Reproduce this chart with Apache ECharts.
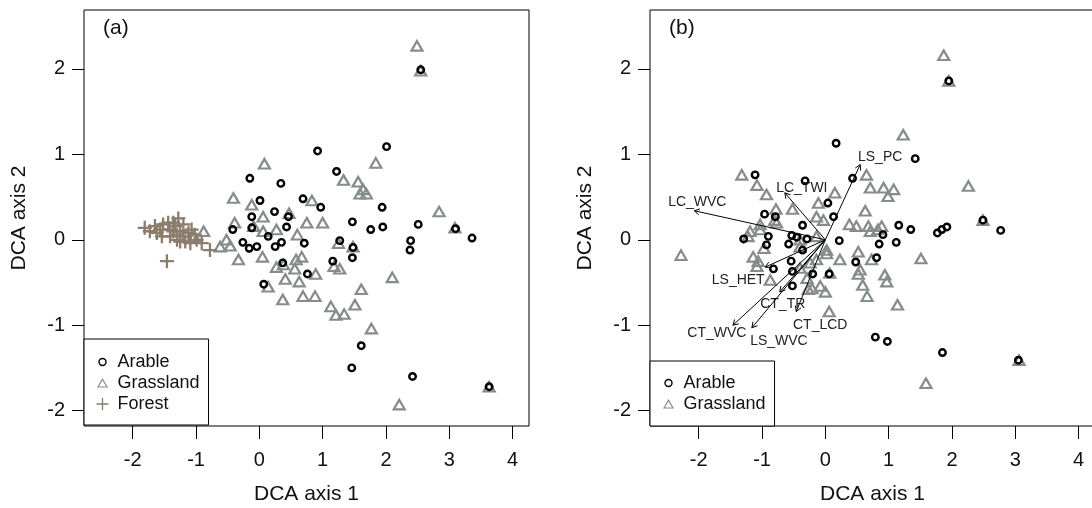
<!DOCTYPE html>
<html>
<head>
<meta charset="utf-8">
<script src="https://cdn.jsdelivr.net/npm/echarts@6/dist/echarts.min.js"></script>
<style>
  html, body { margin: 0; padding: 0; background: #fff; }
  #chart { width: 1092px; height: 508px; }
</style>
</head>
<body>
<div id="chart"></div>
<script>
// ---- DCA site scores, panel (a): [axis 1, axis 2] ----
const arableA = [
  [0.92, 1.04], [2.01, 1.09], [1.22, 0.80], [-0.15, 0.72], [0.34, 0.66], [0.01, 0.46],
  [0.69, 0.48], [0.97, 0.38], [0.24, 0.33], [1.94, 0.38], [-0.12, 0.27], [0.46, 0.27],
  [1.47, 0.21], [2.51, 0.18], [1.95, 0.15], [1.76, 0.12], [0.43, 0.15], [-0.12, 0.14],
  [-0.42, 0.12], [0.14, 0.04], [3.36, 0.02], [2.39, -0.01], [-0.26, -0.03], [0.35, -0.03],
  [0.71, -0.04], [-0.04, -0.08], [-0.16, -0.10], [0.25, -0.08], [1.27, -0.01], [2.38, -0.12],
  [1.47, -0.21], [1.48, -0.09], [0.37, -0.27], [1.16, -0.25], [0.76, -0.40], [0.07, -0.52],
  [1.61, -1.24], [1.46, -1.50], [2.42, -1.60], [2.55, 1.99], [3.10, 0.13], [3.63, -1.72]
];
const grasslandA = [
  [2.49, 2.27], [2.55, 1.98], [0.08, 0.89], [1.84, 0.90], [1.33, 0.70], [1.56, 0.68],
  [1.64, 0.59], [1.59, 0.54], [1.69, 0.54], [-0.41, 0.49], [-0.12, 0.41], [0.83, 0.46],
  [0.75, 0.20], [1.00, 0.20], [0.06, 0.27], [0.47, 0.31], [-0.39, 0.20], [2.84, 0.33],
  [3.09, 0.14], [-0.88, 0.10], [-1.03, 0.04], [-0.52, 0.00], [-0.62, -0.08], [-0.46, -0.07],
  [-0.33, -0.23], [0.05, -0.20], [-0.09, 0.16], [0.27, 0.12], [0.60, 0.06], [0.06, 0.10],
  [1.25, -0.04], [1.48, -0.08], [0.67, -0.20], [0.58, -0.23], [0.27, -0.32], [0.38, -0.29],
  [0.56, -0.34], [0.89, -0.40], [1.18, -0.31], [1.27, -0.34], [0.41, -0.46], [0.63, -0.49],
  [0.14, -0.55], [2.10, -0.44], [1.61, -0.58], [0.37, -0.70], [0.69, -0.66], [0.88, -0.66],
  [1.13, -0.78], [1.51, -0.76], [1.21, -0.88], [1.34, -0.87], [1.77, -1.04], [3.63, -1.72],
  [2.21, -1.93]
];
const forestA = [
  [-1.81, 0.14], [-1.73, 0.10], [-1.65, 0.16], [-1.57, 0.12], [-1.52, 0.18], [-1.44, 0.20],
  [-1.41, 0.12], [-1.36, 0.10], [-1.33, 0.16], [-1.28, 0.25], [-1.25, 0.10], [-1.20, 0.18],
  [-1.20, 0.04], [-1.12, 0.08], [-1.07, 0.12], [-1.54, 0.04], [-1.30, 0.00], [-1.09, -0.04],
  [-0.99, 0.00], [-0.91, -0.04], [-0.78, -0.12], [-1.46, -0.25], [-1.41, 0.04], [-1.25, -0.02],
  [-1.17, -0.02], [-1.36, 0.20], [-1.02, 0.06], [-1.62, 0.08], [-1.30, 0.06]
];

// ---- DCA site scores, panel (b) ----
const arableB = [
  [0.17, 1.13], [1.42, 0.95], [0.43, 0.72], [-1.11, 0.76], [-0.32, 0.69], [0.04, 0.43],
  [0.13, 0.27], [-0.96, 0.30], [-0.36, 0.17], [1.16, 0.17], [1.35, 0.12], [1.92, 0.15],
  [1.84, 0.12], [1.77, 0.08], [2.77, 0.11], [0.91, 0.06], [0.85, -0.05], [1.12, -0.03],
  [0.22, -0.01], [-0.90, 0.04], [-1.29, 0.01], [-0.93, -0.06], [-0.53, 0.05], [-0.58, -0.05],
  [-0.45, 0.03], [-0.29, 0.01], [-0.36, -0.12], [0.81, -0.21], [0.48, -0.26], [-0.54, -0.25],
  [-0.82, -0.34], [-0.52, -0.37], [-0.20, -0.40], [0.06, -0.40], [-0.52, -0.54], [0.79, -1.14],
  [0.98, -1.19], [1.85, -1.32], [1.95, 1.86], [2.49, 0.23], [3.05, -1.41], [-0.79, 0.27]
];
const grasslandB = [
  [1.87, 2.16], [1.95, 1.86], [1.23, 1.23], [2.26, 0.63], [2.49, 0.23], [3.06, -1.41],
  [1.59, -1.68], [-2.28, -0.18], [-1.32, 0.76], [-1.08, 0.64], [-0.93, 0.53], [-0.78, 0.36],
  [-0.52, 0.36], [-0.11, 0.43], [0.15, 0.55], [0.65, 0.76], [0.71, 0.61], [0.92, 0.61],
  [1.08, 0.59], [0.99, 0.51], [0.63, 0.34], [-0.14, 0.27], [-0.03, 0.23], [0.38, 0.18],
  [0.49, 0.16], [0.71, 0.10], [0.89, 0.16], [-1.22, 0.04], [-0.77, 0.20], [-1.03, 0.12],
  [-0.97, -0.10], [-1.14, -0.20], [-1.08, -0.31], [-0.87, -0.47], [-0.40, 0.00], [-0.14, 0.04],
  [0.02, -0.16], [0.23, -0.23], [0.52, -0.14], [0.73, -0.23], [0.52, -0.40], [0.94, -0.41],
  [0.97, -0.49], [0.59, -0.53], [0.66, -0.66], [1.14, -0.76], [1.51, -0.22], [-0.24, -0.27],
  [-0.08, -0.54], [0.00, -0.61], [-0.27, -0.58], [0.06, -0.84], [-0.29, -0.45], [0.07, -0.39],
  [-1.03, 0.18], [-1.19, 0.10], [-0.80, 0.23], [-1.06, -0.25], [-0.40, -0.08], [0.02, -0.12],
  [-0.14, -0.23], [0.55, -0.35], [-0.40, -0.33], [-0.21, -0.57], [0.68, 0.16], [0.83, 0.12]
];

// ---- environmental vectors fitted onto panel (b) ----
const vectorNames = ['LC_WVC', 'LC_TWI', 'LS_PC', 'LS_HET', 'CT_TR', 'CT_WVC', 'LS_WVC', 'CT_LCD'];
const vectorAxis1 = [-2.07, -0.64, 0.55, -0.95, -0.72, -1.46, -1.16, -0.46];
const vectorAxis2 = [0.34, 0.55, 0.88, -0.32, -0.61, -1.00, -1.03, -0.84];

// ---- axis ticks ----
const xTicks = [-2, -1, 0, 1, 2, 3, 4];
const yTicks = [-2, -1, 0, 1, 2];

// ---- layout & style ----
const X_RANGE = [-2.77, 4.26];
const Y_RANGE = [-2.18, 2.69];
const FONT = '"Liberation Sans", Arial, sans-serif';
const TEXT = '#111';
const GREY = '#868c8c';
const BROWN = '#8b7d6b';
// pixel offsets of each vector label from its arrow tip
const vectorLabelOffsets = [[3, -9], [17, -5], [20, -7], [-27, 13], [3, 12], [-16, 8], [27, 13], [24, 14]];

const CROSS = 'path://M0,7L14,7M7,0L7,14';
const ICON_CIRCLE = 'path://M0,0M12,12M9.5,6A3.5,3.5,0,1,1,2.5,6A3.5,3.5,0,1,1,9.5,6Z';
const ICON_TRIANGLE = 'path://M0,0M12,12M1.5,10L6,2.2L10.5,10Z';
const ICON_CROSS = 'path://M0,0M12,12M0,6L12,6M6,0L6,12';

function xAxisFor(gridIndex) {
  return {
    type: 'value', gridIndex, min: X_RANGE[0], max: X_RANGE[1],
    name: 'DCA axis 1', nameLocation: 'middle', nameGap: 58,
    nameTextStyle: { fontSize: 21, color: TEXT, fontFamily: FONT },
    axisLine: { show: false, onZero: false }, splitLine: { show: false },
    axisTick: { show: true, inside: false, length: 13, customValues: xTicks, lineStyle: { color: '#000', width: 1 } },
    axisLabel: { show: true, margin: 24, customValues: xTicks, fontSize: 20, color: TEXT, fontFamily: FONT }
  };
}
function yAxisFor(gridIndex) {
  return {
    type: 'value', gridIndex, min: Y_RANGE[0], max: Y_RANGE[1],
    name: 'DCA axis 2', nameLocation: 'middle', nameGap: 54, nameRotate: 90,
    nameTextStyle: { fontSize: 21, color: TEXT, fontFamily: FONT },
    axisLine: { show: false, onZero: false }, splitLine: { show: false },
    axisTick: { show: true, inside: false, length: 12, customValues: yTicks, lineStyle: { color: '#000', width: 1 } },
    axisLabel: { show: true, margin: 19, customValues: yTicks, fontSize: 20, color: TEXT, fontFamily: FONT }
  };
}
function legendFor(top, padding, names) {
  const items = {
    Arable: { name: 'Arable', icon: ICON_CIRCLE, itemStyle: { color: 'none', borderColor: '#000', borderWidth: 1.4 } },
    Grassland: { name: 'Grassland', icon: ICON_TRIANGLE, itemStyle: { color: 'none', borderColor: GREY, borderWidth: 1.2 } },
    Forest: { name: 'Forest', icon: ICON_CROSS, itemStyle: { color: 'none', borderColor: BROWN, borderWidth: 1.3 } }
  };
  return {
    orient: 'vertical', top, padding, itemWidth: 12, itemHeight: 12, itemGap: 3,
    borderColor: '#000', borderWidth: 1, borderRadius: 0, backgroundColor: '#fff',
    selectedMode: false, z: 10,
    textStyle: { fontSize: 18, color: TEXT, fontFamily: FONT, padding: [0, 0, 0, 4] },
    data: names.map(n => items[n])
  };
}
function pointSeries(kind, data, axisIndex) {
  const base = { type: 'scatter', xAxisIndex: axisIndex, yAxisIndex: axisIndex, data, silent: true };
  if (kind === 'Arable') {
    return Object.assign(base, { name: 'Arable', symbol: 'circle', symbolSize: 6.5, z: 3,
      itemStyle: { color: 'none', borderColor: '#000', borderWidth: 2.4, opacity: 1 } });
  }
  if (kind === 'Grassland') {
    return Object.assign(base, { name: 'Grassland', symbol: 'triangle', symbolSize: [11, 9.5], z: 2,
      itemStyle: { color: 'none', borderColor: GREY, borderWidth: 2.2, opacity: 1 } });
  }
  return Object.assign(base, { name: 'Forest', symbol: CROSS, symbolSize: 14, z: 4,
    itemStyle: { color: 'none', borderColor: BROWN, borderWidth: 2.3, opacity: 1 } });
}

const vectorData = vectorNames.map((n, i) => ({ name: n, value: [vectorAxis1[i], vectorAxis2[i]] }));

const chart = echarts.init(document.getElementById('chart'), null, { renderer: 'canvas' });
chart.setOption({
  animation: false,
  backgroundColor: '#fff',
  textStyle: { fontFamily: FONT },
  title: [
    { text: '(a)', left: 98, top: 13, textStyle: { fontSize: 21, fontWeight: 'normal', color: TEXT, fontFamily: FONT } },
    { text: '(b)', left: 664, top: 13, textStyle: { fontSize: 21, fontWeight: 'normal', color: TEXT, fontFamily: FONT } }
  ],
  grid: [
    { left: 84, top: 10, width: 445, height: 416, show: true, borderColor: '#000', borderWidth: 1, backgroundColor: 'transparent', outerBoundsMode: 'none' },
    { left: 650, top: 10, width: 445, height: 416, show: true, borderColor: '#000', borderWidth: 1, backgroundColor: 'transparent', outerBoundsMode: 'none' }
  ],
  xAxis: [xAxisFor(0), xAxisFor(1)],
  yAxis: [yAxisFor(0), yAxisFor(1)],
  legend: [
    Object.assign(legendFor(339, [14, 9, 12, 10], ['Arable', 'Grassland', 'Forest']), { left: 84 }),
    Object.assign(legendFor(361, [13, 9, 13, 10], ['Arable', 'Grassland']), { left: 650 })
  ],
  series: [
    pointSeries('Grassland', grasslandA, 0),
    pointSeries('Arable', arableA, 0),
    pointSeries('Forest', forestA, 0),
    pointSeries('Grassland', grasslandB, 1),
    pointSeries('Arable', arableB, 1),
    {
      type: 'custom', name: 'vectors', xAxisIndex: 1, yAxisIndex: 1, silent: true, z: 5,
      data: vectorData,
      renderItem(params, api) {
        const tip = api.coord([api.value(0), api.value(1)]);
        const o = api.coord([0, 0]);
        const ang = Math.atan2(tip[1] - o[1], tip[0] - o[0]);
        const L = 6, a = Math.PI / 6;
        const p1 = [tip[0] - L * Math.cos(ang - a), tip[1] - L * Math.sin(ang - a)];
        const p2 = [tip[0] - L * Math.cos(ang + a), tip[1] - L * Math.sin(ang + a)];
        const off = vectorLabelOffsets[params.dataIndex];
        return {
          type: 'group',
          children: [
            { type: 'line', shape: { x1: o[0], y1: o[1], x2: tip[0], y2: tip[1] }, style: { stroke: '#000', lineWidth: 1 } },
            { type: 'polyline', shape: { points: [p1, tip, p2] }, style: { stroke: '#000', lineWidth: 1, fill: null } },
            { type: 'text', x: tip[0] + off[0], y: tip[1] + off[1],
              style: { text: vectorNames[params.dataIndex], fill: '#222', fontSize: 14, fontFamily: FONT, align: 'center', verticalAlign: 'middle' } }
          ]
        };
      }
    }
  ]
});
</script>
</body>
</html>
